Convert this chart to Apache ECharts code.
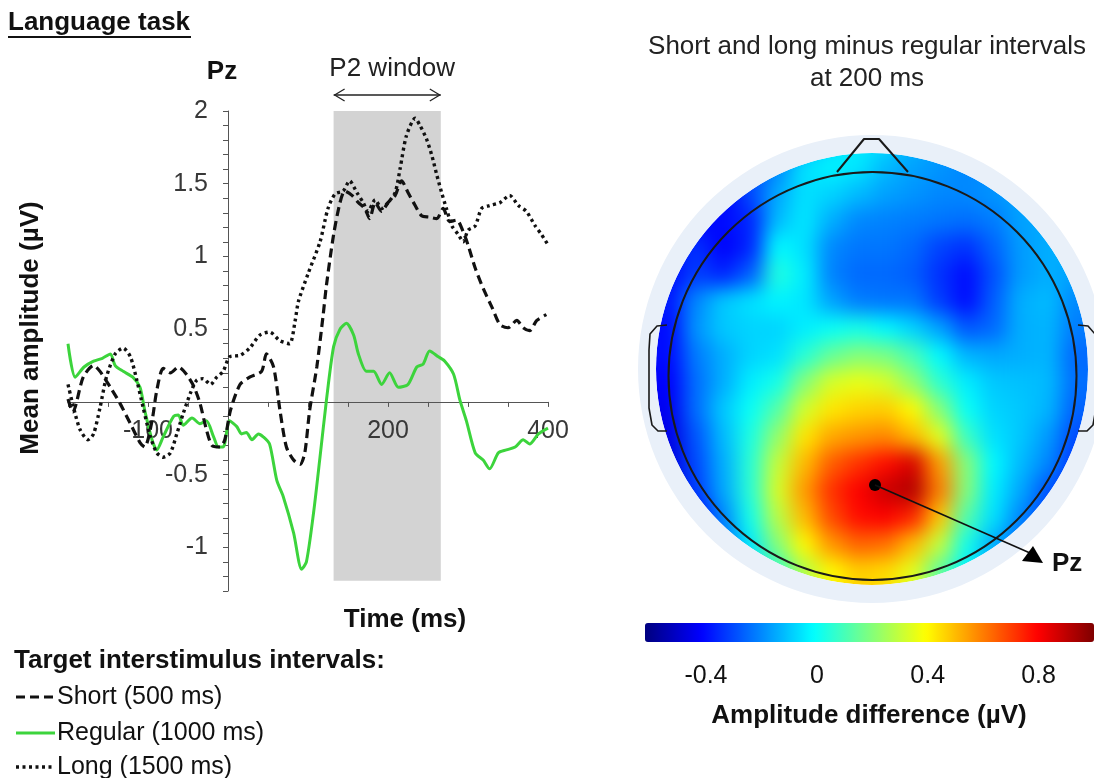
<!DOCTYPE html>
<html>
<head>
<meta charset="utf-8">
<title>Language task – P2 at Pz</title>
<script src="https://cdn.jsdelivr.net/npm/echarts@6/dist/echarts.min.js"></script>
<style>
  html, body { margin: 0; padding: 0; background: #fff; width: 1094px; height: 778px; overflow: hidden; position: relative; }
  /* scalp map layer: smoothed cell grid, cut to the scalp disc */
  #topo { position: absolute; left: 629px; top: 126px; width: 486px; height: 486px;
          filter: blur(10px); clip-path: circle(216px at 243px 243px); }
  #main { position: absolute; left: 0; top: 0; width: 1094px; height: 778px; }
</style>
</head>
<body>
<div id="topo"></div>
<div id="main"></div>
<script>
const FONT = '"Liberation Sans", Arial, Helvetica, sans-serif';
const INK = '#111';
const TICK_INK = '#383838';

// ---- Pz grand averages: time (ms) and mean amplitude (µV) ----
const shortTimes = [-200, -194, -181, -168, -160, -147, -135, -122, -110, -104, -95, -89, -81, -72, -62, -52, -43, -35, -27, -20, -10, -4, 3, 15, 27, 42, 48, 57, 65, 73, 82, 90, 96, 102, 111, 119, 123, 132, 140, 146, 155, 163, 171, 177, 184, 192, 200, 209, 217, 225, 234, 242, 252, 261, 269, 277, 286, 294, 300, 309, 319, 330, 340, 350, 361, 369, 377, 386, 398];
const shortAmps  = [0.02, -0.07, 0.17, 0.25, 0.21, 0.10, -0.01, -0.15, -0.28, -0.31, -0.13, 0.08, 0.23, 0.20, 0.24, 0.19, 0.11, -0.01, -0.19, -0.30, -0.31, -0.26, -0.06, 0.12, 0.17, 0.21, 0.33, 0.24, -0.06, -0.31, -0.40, -0.43, -0.35, -0.06, 0.24, 0.60, 0.80, 1.15, 1.37, 1.45, 1.42, 1.37, 1.33, 1.26, 1.37, 1.31, 1.37, 1.42, 1.52, 1.44, 1.35, 1.28, 1.27, 1.26, 1.33, 1.24, 1.25, 1.17, 1.08, 0.92, 0.78, 0.65, 0.53, 0.51, 0.56, 0.51, 0.49, 0.56, 0.60];

const regularTimes = [-200, -191, -180, -168, -157, -147, -141, -131, -119, -110, -104, -95, -89, -81, -68, -62, -56, -45, -35, -27, -18, -12, -6, 2, 11, 17, 23, 30, 38, 44, 52, 61, 69, 82, 92, 98, 107, 115, 123, 132, 140, 148, 157, 163, 173, 182, 192, 202, 213, 225, 236, 244, 252, 263, 271, 282, 290, 298, 309, 319, 327, 338, 348, 359, 369, 377, 388, 400];
const regularAmps  = [0.40, 0.17, 0.24, 0.28, 0.30, 0.33, 0.25, 0.21, 0.17, 0.10, -0.06, -0.26, -0.33, -0.24, -0.10, -0.09, -0.16, -0.11, -0.15, -0.13, -0.24, -0.31, -0.31, -0.13, -0.17, -0.22, -0.21, -0.26, -0.22, -0.24, -0.29, -0.54, -0.65, -0.90, -1.15, -1.10, -0.76, -0.38, 0.01, 0.38, 0.50, 0.54, 0.46, 0.33, 0.21, 0.21, 0.12, 0.20, 0.10, 0.12, 0.24, 0.26, 0.35, 0.31, 0.28, 0.19, 0.01, -0.13, -0.35, -0.40, -0.46, -0.35, -0.33, -0.31, -0.26, -0.29, -0.22, -0.18];

const longTimes = [-200, -193, -185, -175, -168, -160, -152, -141, -131, -122, -114, -106, -97, -89, -81, -72, -64, -56, -47, -39, -31, -22, -14, -6, 2, 15, 27, 40, 52, 65, 77, 84, 88, 100, 115, 125, 134, 144, 152, 161, 169, 175, 184, 192, 200, 209, 215, 223, 234, 240, 248, 255, 261, 267, 273, 280, 288, 294, 300, 309, 317, 327, 340, 352, 363, 373, 384, 392, 400];
const longAmps  = [0.12, -0.04, -0.19, -0.26, -0.22, -0.04, 0.17, 0.33, 0.37, 0.31, 0.15, -0.04, -0.24, -0.35, -0.38, -0.35, -0.22, -0.08, 0.06, 0.15, 0.16, 0.12, 0.17, 0.21, 0.31, 0.32, 0.37, 0.46, 0.48, 0.42, 0.40, 0.56, 0.69, 0.88, 1.10, 1.33, 1.43, 1.45, 1.52, 1.44, 1.37, 1.31, 1.39, 1.33, 1.37, 1.44, 1.60, 1.83, 1.95, 1.90, 1.81, 1.69, 1.56, 1.44, 1.33, 1.21, 1.15, 1.10, 1.18, 1.21, 1.33, 1.35, 1.37, 1.42, 1.35, 1.31, 1.21, 1.15, 1.08];

const seriesNames = ['Short (500 ms)', 'Regular (1000 ms)', 'Long (1500 ms)'];
const p2Window = [132, 266];          // ms
const p2Span = [-1.23, 2];            // µV extent of the shaded window
const xTickLabels = [-100, 200, 400];
const yTickLabels = [-1, -0.5, 0.5, 1, 1.5, 2];

// ---- scalp map at 200 ms: short & long minus regular (µV), rows front→back ----
const topoRows = [
  [-0.42,-0.42,-0.42,-0.42,-0.40,-0.32,-0.20,-0.08,-0.04,-0.06,-0.12,-0.16,-0.18,-0.20,-0.20,-0.18,-0.16,-0.16],
  [-0.42,-0.42,-0.42,-0.42,-0.32,-0.20,-0.06,-0.03,-0.05,-0.12,-0.16,-0.18,-0.20,-0.20,-0.18,-0.16,-0.16,-0.16],
  [-0.42,-0.42,-0.42,-0.42,-0.30,-0.15,-0.06,-0.08,-0.12,-0.16,-0.18,-0.20,-0.20,-0.18,-0.16,-0.15,-0.15,-0.15],
  [-0.42,-0.42,-0.42,-0.40,-0.36,-0.12,-0.05,-0.14,-0.20,-0.21,-0.22,-0.23,-0.24,-0.22,-0.16,-0.15,-0.15,-0.15],
  [-0.40,-0.40,-0.34,-0.42,-0.36,-0.02,-0.06,-0.20,-0.23,-0.23,-0.25,-0.31,-0.34,-0.26,-0.17,-0.14,-0.14,-0.14],
  [-0.40,-0.40,-0.32,-0.36,-0.27, 0.04,-0.04,-0.21,-0.25,-0.25,-0.27,-0.34,-0.40,-0.29,-0.17,-0.14,-0.16,-0.16],
  [-0.38,-0.38,-0.20,-0.10,-0.06,-0.03,-0.05,-0.16,-0.22,-0.23,-0.23,-0.32,-0.40,-0.27,-0.14,-0.12,-0.20,-0.20],
  [-0.40,-0.40,-0.18,-0.10,-0.08,-0.08,-0.04, 0.00, 0.02,-0.02,-0.08,-0.16,-0.28,-0.25,-0.14,-0.13,-0.22,-0.22],
  [-0.40,-0.40,-0.22,-0.14,-0.08,-0.06, 0.05, 0.15, 0.20, 0.18, 0.10,-0.02,-0.13,-0.15,-0.14,-0.13,-0.25,-0.25],
  [-0.42,-0.42,-0.24,-0.14,-0.04, 0.02, 0.20, 0.33, 0.36, 0.33, 0.22, 0.06,-0.04,-0.10,-0.11,-0.12,-0.24,-0.24],
  [-0.44,-0.44,-0.24,-0.10, 0.00, 0.12, 0.32, 0.43, 0.46, 0.47, 0.40, 0.20, 0.00,-0.08,-0.10,-0.13,-0.26,-0.26],
  [-0.46,-0.46,-0.28,-0.12, 0.03, 0.22, 0.43, 0.53, 0.56, 0.58, 0.50, 0.35, 0.08,-0.06,-0.10,-0.17,-0.30,-0.30],
  [-0.47,-0.47,-0.30,-0.14, 0.05, 0.30, 0.50, 0.65, 0.72, 0.78, 0.86, 0.55, 0.20,-0.02,-0.12,-0.20,-0.33,-0.33],
  [-0.48,-0.48,-0.32,-0.15, 0.05, 0.33, 0.55, 0.72, 0.80, 0.88, 0.92, 0.60, 0.20,-0.04,-0.15,-0.28,-0.36,-0.36],
  [-0.48,-0.48,-0.42,-0.20, 0.02, 0.28, 0.50, 0.68, 0.78, 0.80, 0.74, 0.48, 0.12,-0.06,-0.20,-0.32,-0.38,-0.38],
  [-0.47,-0.47,-0.40,-0.25,-0.04, 0.20, 0.40, 0.56, 0.64, 0.62, 0.50, 0.30, 0.02,-0.14,-0.26,-0.34,-0.38,-0.38],
  [-0.44,-0.44,-0.36,-0.25,-0.10, 0.06, 0.27, 0.40, 0.47, 0.45, 0.35, 0.14,-0.03,-0.14,-0.26,-0.32,-0.36,-0.36],
  [-0.44,-0.44,-0.36,-0.25,-0.10, 0.06, 0.27, 0.40, 0.47, 0.45, 0.35, 0.14,-0.03,-0.14,-0.26,-0.32,-0.36,-0.36]
];
const topoRange = [-0.62, 1.0];
const colorbarTicks = [-0.4, 0, 0.4, 0.8];
const JET = ['#00007f', '#0000ff', '#007fff', '#00ffff', '#7fff7f', '#ffff00', '#ff7f00', '#ff0000', '#7f0000'];

const pairs = (ts, vs) => ts.map((t, i) => [t, vs[i]]);
const near = (a, b) => Math.abs(a - b) < 1e-6;

// line styles shared by the traces and their legend samples
const STYLE_SHORT = { color: INK, width: 3.2, type: [9, 5] };
const STYLE_REGULAR = { color: '#3cd43c', width: 3 };
const STYLE_LONG = { color: INK, width: 3.4, type: [3, 3.5] };

// ---------------- scalp map (cell grid) ----------------
const topoChart = echarts.init(document.getElementById('topo'), null, { renderer: 'canvas' });
const topoCells = [];
topoRows.forEach((row, r) => row.forEach((v, c) => topoCells.push([c, r, v])));
topoChart.setOption({
  animation: false,
  grid: { left: 0, right: 0, top: 0, bottom: 0 },
  xAxis: { type: 'category', data: topoRows[0].map((_, i) => i), show: false },
  yAxis: { type: 'category', data: topoRows.map((_, i) => i), show: false, inverse: true },
  visualMap: { show: false, min: topoRange[0], max: topoRange[1], dimension: 2, inRange: { color: JET } },
  series: [{ type: 'heatmap', data: topoCells, itemStyle: { borderWidth: 0 }, emphasis: { disabled: true } }]
});

// ---------------- waveforms, colour bar, annotations ----------------
const chart = echarts.init(document.getElementById('main'), null, { renderer: 'canvas' });
const GRID = { left: 68, width: 480, top: 111, height: 480 };

const lineBase = { type: 'line', showSymbol: false, symbol: 'none', smooth: 0.25, xAxisIndex: 0, yAxisIndex: 0, silent: true };

chart.setOption({
  animation: false,
  textStyle: { fontFamily: FONT },
  grid: [
    GRID,
    { left: 645, width: 449, top: 623, height: 19 }
  ],
  xAxis: [
    {
      type: 'value', gridIndex: 0, min: -200, max: 400, interval: 50, z: 1,
      axisLine: { onZero: false, lineStyle: { color: '#555', width: 1 } },
      axisTick: { show: true, length: 5, lineStyle: { color: '#555' } },
      axisLabel: {
        margin: 17, fontSize: 25, color: TICK_INK, fontFamily: FONT,
        formatter: v => (xTickLabels.some(t => near(t, v)) ? String(v) : '')
      },
      splitLine: { show: false }
    },
    {
      type: 'value', gridIndex: 1, min: topoRange[0], max: topoRange[1],
      axisLine: { show: false },
      axisTick: { show: true, inside: true, length: 3, customValues: colorbarTicks, lineStyle: { color: '#444' } },
      axisLabel: { customValues: colorbarTicks, margin: 22, fontSize: 25, color: INK, fontFamily: FONT,
                   formatter: v => String(v) },
      splitLine: { show: false }
    }
  ],
  yAxis: [
    {
      type: 'value', gridIndex: 0, min: -1.3, max: 2, interval: 0.1, z: 1,
      axisLine: { onZero: false, lineStyle: { color: '#555', width: 1 } },
      axisTick: { show: true, length: 5, lineStyle: { color: '#555' } },
      axisLabel: {
        margin: 20, fontSize: 25, color: TICK_INK, fontFamily: FONT,
        formatter: v => {
          const hit = yTickLabels.find(t => near(t, v));
          return hit === undefined ? '' : String(hit);
        }
      },
      splitLine: { show: false }
    },
    { type: 'value', gridIndex: 1, min: 0, max: 1, show: false }
  ],
  visualMap: {
    type: 'continuous', seriesIndex: [], min: topoRange[0], max: topoRange[1],
    orient: 'horizontal', left: 645, top: 623, itemWidth: 19, itemHeight: 449, padding: 0,
    calculable: false, hoverLink: false, text: null, showLabel: false,
    inRange: { color: JET }
  },
  series: [
    {
      // P2 window shading
      type: 'line', data: [], z: 0, silent: true, xAxisIndex: 0, yAxisIndex: 0,
      markArea: {
        silent: true, itemStyle: { color: '#d3d3d3' },
        data: [[{ xAxis: p2Window[0], yAxis: p2Span[0] }, { xAxis: p2Window[1], yAxis: p2Span[1] }]]
      }
    },
    Object.assign({}, lineBase, { name: seriesNames[1], z: 2, data: pairs(regularTimes, regularAmps), lineStyle: STYLE_REGULAR }),
    Object.assign({}, lineBase, { name: seriesNames[0], z: 3, data: pairs(shortTimes, shortAmps), lineStyle: STYLE_SHORT }),
    Object.assign({}, lineBase, { name: seriesNames[2], z: 3, data: pairs(longTimes, longAmps), lineStyle: STYLE_LONG })
  ]
});

// put both axes through the origin (0 ms, 0 µV) while keeping their tick labels attached
const origin = chart.convertToPixel({ gridIndex: 0 }, [0, 0]);
chart.setOption({
  xAxis: [{ offset: -(GRID.top + GRID.height - origin[1]) }, {}],
  yAxis: [{ offset: -(origin[0] - GRID.left) }, {}]
});

// annotation helpers
function txt(text, x, y, extra) {
  return Object.assign({
    type: 'text', x, y, silent: true,
    style: Object.assign({ text, fill: INK, fontSize: 26, fontFamily: FONT, fontWeight: 'normal',
                           textAlign: 'left', textVerticalAlign: 'middle' }, (extra && extra.style) || {})
  }, extra && extra.rotation !== undefined ? { rotation: extra.rotation } : {});
}
function seg(points, width, color, dash) {
  return { type: 'polyline', silent: true, shape: { points },
           style: { stroke: color || '#222', lineWidth: width || 2, fill: null, lineJoin: 'round',
                    lineDash: dash || null } };
}

const ax0 = chart.convertToPixel({ gridIndex: 0 }, [p2Window[0], 0])[0];
const ax1 = chart.convertToPixel({ gridIndex: 0 }, [p2Window[1], 0])[0];
const arrowY = 95;

// legend rows: sample line + label
const legendRows = [
  { name: seriesNames[0], style: STYLE_SHORT, y: 697 },
  { name: seriesNames[1], style: STYLE_REGULAR, y: 733 },
  { name: seriesNames[2], style: STYLE_LONG, y: 767 }
];
const legendGraphics = [];
legendRows.forEach(row => {
  legendGraphics.push(seg([[16, row.y], [55, row.y]], row.style.width, row.style.color, row.style.type || null));
  legendGraphics.push(txt(row.name, 57, row.y, { style: { fontSize: 25 } }));
});

// head outline geometry
const head = { cx: 872.5, cy: 376, r: 204 };
const earL = [[667, 325], [657, 326], [650, 334], [649, 350], [649, 408], [652, 425], [658, 431], [667, 431]];
const earR = earL.map(([x, y]) => [2 * head.cx - x, y]);

chart.setOption({
  graphic: [
    // left panel texts
    txt('Language task', 8, 23, { style: { fontWeight: 'bold' } }),
    { type: 'line', silent: true, shape: { x1: 8, y1: 37, x2: 191, y2: 37 }, style: { stroke: INK, lineWidth: 2 } },
    txt('Pz', 222, 72, { style: { fontWeight: 'bold', textAlign: 'center' } }),
    txt('P2 window', (ax0 + ax1) / 2 + 5, 69, { style: { textAlign: 'center', fill: '#222' } }),
    seg([[ax0, arrowY], [ax1, arrowY]], 1.3),
    seg([[ax0 + 11, arrowY - 6], [ax0 + 1, arrowY], [ax0 + 11, arrowY + 6]], 1.3),
    seg([[ax1 - 11, arrowY - 6], [ax1 - 1, arrowY], [ax1 - 11, arrowY + 6]], 1.3),
    txt('Mean amplitude (µV)', 31, 328, { rotation: Math.PI / 2, style: { fontWeight: 'bold', textAlign: 'center' } }),
    txt('Time (ms)', 405, 620, { style: { fontWeight: 'bold', textAlign: 'center' } }),
    txt('Target interstimulus intervals:', 14, 661, { style: { fontWeight: 'bold' } }),
    ...legendGraphics,

    // right panel texts
    txt('Short and long minus regular intervals', 867, 47, { style: { textAlign: 'center', fill: '#222' } }),
    txt('at 200 ms', 867, 79, { style: { textAlign: 'center', fill: '#222' } }),
    txt('Amplitude difference (µV)', 869, 716, { style: { fontWeight: 'bold', textAlign: 'center' } }),

    // pale rim around the scalp map
    { type: 'ring', silent: true, shape: { cx: 872, cy: 369, r: 234, r0: 216 }, style: { fill: '#e9f0f9' } },
    // head, nose, ears
    { type: 'circle', silent: true, shape: { cx: head.cx, cy: head.cy, r: head.r },
      style: { fill: null, stroke: '#1a1a1a', lineWidth: 2 } },
    seg([[837, 172], [864, 139], [879, 139], [908, 172]], 2, '#1a1a1a'),
    seg(earL, 1.6, '#1a1a1a'),
    seg(earR, 1.6, '#1a1a1a'),
    // Pz electrode and pointer
    { type: 'circle', silent: true, shape: { cx: 875, cy: 485, r: 6 }, style: { fill: '#000' } },
    { type: 'line', silent: true, shape: { x1: 875, y1: 485, x2: 1030, y2: 553 }, style: { stroke: '#111', lineWidth: 1.6 } },
    { type: 'polygon', silent: true, shape: { points: [[1022, 561], [1043, 563], [1033, 546]] }, style: { fill: '#000' } },
    txt('Pz', 1052, 564, { style: { fontWeight: 'bold' } })
  ]
});
</script>
</body>
</html>
